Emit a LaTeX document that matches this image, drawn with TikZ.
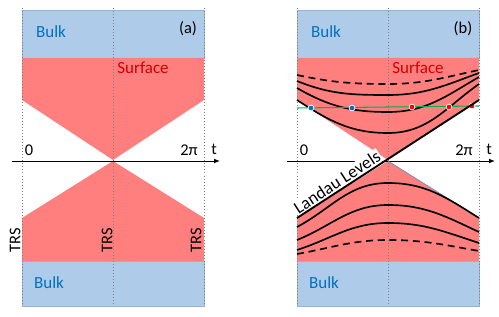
\documentclass[tikz,border=0pt]{standalone}
\usepackage{fontspec}
\setmainfont{Carlito}
\usetikzlibrary{arrows.meta}
\definecolor{bulkblue}{RGB}{175,203,234}
\definecolor{bulkedge}{RGB}{150,178,214}
\definecolor{surfred}{RGB}{255,127,127}
\definecolor{bulktext}{RGB}{0,112,192}
\definecolor{surftext}{RGB}{214,0,0}
\definecolor{fermigreen}{RGB}{0,176,80}
\definecolor{edgeblue}{RGB}{105,140,195}

\begin{document}
\begin{tikzpicture}[x=0.03cm, y=-0.03cm,
  band/.style={fill=bulkblue, draw=bulkedge, line width=0.4pt},
  surf/.style={fill=surfred},
  guide/.style={gray, dotted, line width=0.6pt},
  axis/.style={-{Latex[length=5pt,width=4pt]}, line width=0.8pt},
  bulklab/.style={text=bulktext, font=\fontsize{14.5}{16}\selectfont},
  surflab/.style={text=surftext, font=\fontsize{14.5}{16}\selectfont},
  lab/.style={font=\fontsize{14}{16}\selectfont},
  trs/.style={rotate=90, font=\fontsize{14}{16}\selectfont},
  level/.style={line width=1.4pt},
  lvldash/.style={line width=1.4pt, dash pattern=on 6pt off 4pt},
  bdot/.style={circle, fill=bulktext, draw=white, line width=0.6pt, inner sep=0pt, minimum size=5pt},
  rdot/.style={bdot, fill=red}
]
\useasboundingbox (0,0) rectangle (499,317);

% both panels share the bands, the surface wedges and the axis
\foreach \px/\tag in {0/a,275/b}{
  \begin{scope}[shift={(\px,0)}]
    \draw[band] (22,10) rectangle (204,58);
    \draw[band] (22,261) rectangle (204,306);
    \fill[surf] (22,58) -- (204,58) -- (204,100) -- (113,160) -- (22,100) -- cycle;
    \fill[surf] (22,218) -- (113,161) -- (204,218) -- (204,261) -- (22,261) -- cycle;
    \foreach \gx in {22,113,204}
      \draw[guide] (\gx,8) -- (\gx,306);
    \coordinate (ax0-\tag) at (12,161);
    \coordinate (ax1-\tag) at (220,161);
    \draw[axis] (ax0-\tag) -- (ax1-\tag);
    \node[bulklab] (bulkup-\tag) at (51,32) {Bulk};
    \node[bulklab] (bulkdn-\tag) at (49,283) {Bulk};
    \node[surflab] (surf-\tag) at (143,68) {Surface};
    \node[lab] (tag-\tag) at (188,29) {(\tag)};
    \node[lab] (zero-\tag) at (29,150) {0};
    \node[lab] (twopi-\tag) at (189,150) {2π};
    \node[lab] (t-\tag) at (214,149) {t};
  \end{scope}
}

% (a): time-reversal points
\node[trs] (trs1) at (15,240) {TRS};
\node[trs] (trs2) at (107,240) {TRS};
\node[trs] (trs3) at (196,240) {TRS};

% (b): Landau levels
\draw[edgeblue, line width=0.6pt] (388,161) -- (479,218);
\draw[lvldash] (297,75) to[out=-12,in=180] (388,84) to[out=0,in=192] (479,70);
\draw[level] (297,81) to[out=-22,in=180] (388,95) to[out=0,in=200] (479,73);
\draw[level] (297,88) to[out=-30,in=180] (388,112) to[out=0,in=210] (479,77);
\draw[level] (297,100) to[out=-33,in=180] (388,133) to[out=0,in=215] (479,84);
\draw[level] (297,227) to[out=28,in=180] (388,183) to[out=0,in=148] (479,218);
\draw[level] (297,240) to[out=22,in=180] (388,205) to[out=0,in=155] (479,232);
\draw[level] (297,250) to[out=18,in=180] (388,223) to[out=0,in=162] (479,243);
\draw[lvldash] (297,254) to[out=10,in=180] (388,240) to[out=0,in=170] (479,251);

\coordinate (ef0) at (297,108);
\coordinate (ef1) at (479,106);
\draw[fermigreen, line width=0.9pt] (ef0) -- (ef1);
\node[bdot] (k1) at (311,108) {};
\node[bdot] (k2) at (352,108) {};
\node[rdot] (k3) at (412,107) {};
\node[rdot] (k4) at (449,107) {};
\node[rdot] (k5) at (472,106) {};

\coordinate (ll0) at (297,218);
\coordinate (ll1) at (479,100);
\path (ll0) -- node[sloped, above=0.8pt, pos=0.245, fill=white, inner sep=1pt,
  font=\fontsize{15}{17}\selectfont] (lltext) {Landau Levels} (ll1);
\draw[line width=1.6pt] (ll0) -- (ll1);
\end{tikzpicture}
\end{document}
